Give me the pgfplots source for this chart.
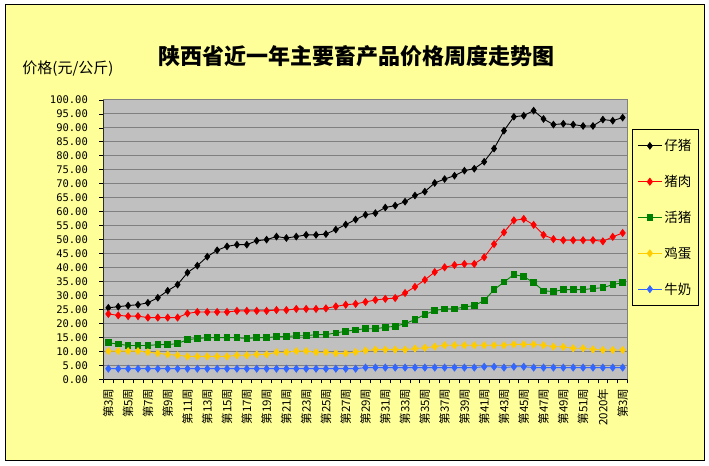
\documentclass[border=0pt]{standalone}
\usepackage{fontspec}
\usepackage{pgfplots}
\usepackage{pgfplotstable}
\pgfplotsset{compat=1.18}
\newfontfamily\cjk{Noto Sans CJK SC}
\newfontfamily\monofnt{DejaVu Sans Mono}
\definecolor{yellowbg}{HTML}{FFFF99}
\definecolor{plotgray}{HTML}{C0C0C0}
\definecolor{gridgray}{HTML}{808080}
\definecolor{cpork}{HTML}{FF0000}
\definecolor{clive}{HTML}{008000}
\definecolor{cegg}{HTML}{FFCC00}
\definecolor{cmilk}{HTML}{3366FF}

\pgfplotstableread{
i piglet pork live egg milk
0 25.6 23.4 13.1 10.1 3.8
1 26.0 22.9 12.6 10.1 3.8
2 26.4 22.6 12.1 10.1 3.8
3 26.7 22.6 12.1 10.1 3.8
4 27.4 22.1 12.1 9.7 3.8
5 29.2 22.1 12.4 9.3 3.8
6 31.7 22.1 12.4 8.9 3.8
7 33.9 22.1 12.8 8.6 3.8
8 38.2 23.6 14.2 8.2 3.8
9 40.7 24.1 14.6 8.2 3.8
10 43.9 24.1 14.9 8.2 3.8
11 46.2 24.1 14.9 8.2 3.8
12 47.6 24.1 14.9 8.2 3.8
13 48.2 24.5 14.9 8.6 3.8
14 48.2 24.5 14.6 8.6 3.8
15 49.6 24.5 14.9 8.9 3.8
16 50.0 24.5 14.9 8.9 3.8
17 51.1 24.8 15.3 9.7 3.8
18 50.6 24.8 15.3 9.7 3.8
19 51.1 25.2 15.6 10.1 3.8
20 51.7 25.2 15.6 10.1 3.8
21 51.7 25.2 16.0 9.7 3.8
22 52.0 25.4 16.0 9.7 3.8
23 53.6 26.1 16.6 9.3 3.8
24 55.4 26.7 17.2 9.3 3.8
25 57.2 27.0 17.7 9.8 3.8
26 58.9 27.7 18.1 10.3 4.2
27 59.5 28.4 18.1 10.6 4.2
28 61.5 28.8 18.6 10.6 4.2
29 62.2 29.1 19.0 10.6 4.2
30 63.6 30.9 19.9 10.6 4.2
31 65.8 33.1 21.4 11.0 4.2
32 67.2 35.6 23.2 11.3 4.2
33 70.3 38.4 24.6 11.7 4.2
34 71.7 40.1 25.2 12.2 4.2
35 72.9 40.9 25.2 12.2 4.2
36 74.7 41.3 25.9 12.2 4.2
37 75.4 41.3 26.4 12.2 4.2
38 77.9 43.7 28.2 12.2 4.5
39 82.6 48.4 32.1 12.2 4.5
40 89.0 52.6 34.8 12.2 4.2
41 94.0 56.9 37.5 12.5 4.5
42 94.4 57.4 36.8 12.5 4.5
43 96.2 55.3 34.6 12.5 4.2
44 93.2 51.7 31.7 12.2 4.2
45 91.2 50.2 31.4 11.7 4.2
46 91.5 49.8 32.1 11.6 4.2
47 91.2 49.8 32.1 11.1 4.2
48 90.7 49.8 32.1 11.1 4.2
49 90.7 49.8 32.5 10.7 4.2
50 93.0 49.4 32.8 10.5 4.2
51 92.6 51.0 33.9 10.5 4.2
52 93.7 52.4 34.6 10.5 4.2
}\datatable

\begin{document}
\begin{tikzpicture}
\fill[white] (0,0) rectangle (709bp,466bp);
\draw[black, line width=1bp, fill=yellowbg] (5bp,5bp) rectangle (704bp,461bp);
\node[font=\cjk\bfseries\fontsize{22bp}{22bp}\selectfont] at (356bp,409.5bp) {陕西省近一年主要畜产品价格周度走势图};
\node[font=\cjk\fontsize{15bp}{15bp}\selectfont] at (68bp,397.5bp) {价格(元/公斤)};
\begin{axis}[
  at={(103.4bp,86.7bp)}, anchor=south west,
  scale only axis, width=524.2bp, height=279.3bp,
  xmin=-0.5, xmax=52.5, ymin=0, ymax=100,
  axis background/.style={fill=plotgray},
  axis line style={draw=gridgray, line width=1bp},
  ytick={0,5,...,100},
  ymajorgrids, major grid style={draw=gridgray, line width=1bp},
  tick pos=left, tick align=outside,
  major tick length=4bp, minor tick length=4bp,
  tick style={black, line width=0.8bp},
  xtick={0,2,...,52},
  every major x tick/.append style={draw=none},
  minor xtick={-0.5,0.5,...,52.5},
  xticklabels={第3周,第5周,第7周,第9周,第11周,第13周,第15周,第17周,第19周,第21周,第23周,第25周,第27周,第29周,第31周,第33周,第35周,第37周,第39周,第41周,第43周,第45周,第47周,第49周,第51周,2020年,第3周},
  x tick label style={rotate=90, anchor=east, font=\cjk\fontsize{11.5bp}{11.5bp}\selectfont, inner sep=1bp},
  xticklabel shift=4bp,
  y tick label style={font=\monofnt\fontsize{10.5bp}{11bp}\selectfont},
  yticklabel shift=8bp,
  /pgf/number format/assume math mode=true,
  yticklabel={\pgfmathprintnumber[fixed,fixed zerofill,precision=2]{\tick}},
  legend style={at={(1.0084,0.896)}, anchor=north west, draw=black, line width=0.8bp, fill=yellowbg,
    font=\cjk\fontsize{13.5bp}{14bp}\selectfont, row sep=19bp, inner xsep=5bp, inner ysep=8bp,
    cells={anchor=west}},
  legend image code/.code={\draw[mark repeat=2,mark phase=2] plot coordinates {(0bp,0bp) (12bp,0bp) (24bp,0bp)};},
  every axis plot/.append style={line width=0.9bp},
]
\addplot[black, mark=diamond*, mark size=3.2bp, mark options={solid,fill=black,draw=black}] table[x=i,y=piglet]{\datatable};
\addlegendentry{仔猪}
\addplot[cpork, mark=diamond*, mark size=3.4bp, mark options={solid,fill=cpork,draw=cpork}] table[x=i,y=pork]{\datatable};
\addlegendentry{猪肉}
\addplot[clive, mark=square*, mark size=2.8bp, mark options={solid,fill=clive,draw=clive}] table[x=i,y=live]{\datatable};
\addlegendentry{活猪}
\addplot[cegg, mark=diamond*, mark size=3.4bp, mark options={solid,fill=cegg,draw=cegg}] table[x=i,y=egg]{\datatable};
\addlegendentry{鸡蛋}
\addplot[cmilk, mark=diamond*, mark size=3.4bp, mark options={solid,fill=cmilk,draw=cmilk}] table[x=i,y=milk]{\datatable};
\addlegendentry{牛奶}
\draw[black, line width=1bp] (rel axis cs:0,1) -- (rel axis cs:0,0) -- (rel axis cs:1,0);
\end{axis}
\end{tikzpicture}
\end{document}
